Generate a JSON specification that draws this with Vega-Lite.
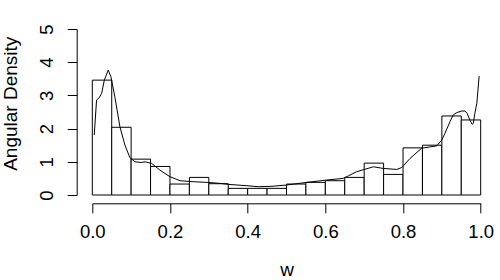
{
  "$schema": "https://vega.github.io/schema/vega-lite/v6.json",
  "width": 388.4,
  "height": 166,
  "autosize": {"type": "none"},
  "padding": {"left": 92.3, "top": 29, "right": 19.3, "bottom": 85},
  "background": "white",
  "config": {
    "view": {"stroke": null},
    "font": "Liberation Sans",
    "axis": {
      "grid": false,
      "domainColor": "black",
      "tickColor": "black",
      "labelColor": "black",
      "titleColor": "black",
      "labelFont": "Liberation Sans",
      "titleFont": "Liberation Sans",
      "labelFontSize": 18.5,
      "titleFontSize": 19,
      "titleFontWeight": "normal",
      "tickSize": 9.5,
      "domainWidth": 1,
      "tickWidth": 1,
      "labelOverlap": false,
      "labelFlush": false,
      "labelBound": false
    }
  },
  "datasets": {
    "bars": [
      {"lo": 0.00, "hi": 0.05, "density": 3.46},
      {"lo": 0.05, "hi": 0.10, "density": 2.04},
      {"lo": 0.10, "hi": 0.15, "density": 1.08},
      {"lo": 0.15, "hi": 0.20, "density": 0.86},
      {"lo": 0.20, "hi": 0.25, "density": 0.33},
      {"lo": 0.25, "hi": 0.30, "density": 0.53},
      {"lo": 0.30, "hi": 0.35, "density": 0.34},
      {"lo": 0.35, "hi": 0.40, "density": 0.20},
      {"lo": 0.40, "hi": 0.45, "density": 0.20},
      {"lo": 0.45, "hi": 0.50, "density": 0.20},
      {"lo": 0.50, "hi": 0.55, "density": 0.33},
      {"lo": 0.55, "hi": 0.60, "density": 0.38},
      {"lo": 0.60, "hi": 0.65, "density": 0.43},
      {"lo": 0.65, "hi": 0.70, "density": 0.53},
      {"lo": 0.70, "hi": 0.75, "density": 0.96},
      {"lo": 0.75, "hi": 0.80, "density": 0.62},
      {"lo": 0.80, "hi": 0.85, "density": 1.42},
      {"lo": 0.85, "hi": 0.90, "density": 1.50},
      {"lo": 0.90, "hi": 0.95, "density": 2.38},
      {"lo": 0.95, "hi": 1.00, "density": 2.26}
    ],
    "curve": [
      {"w": 0.005, "d": 1.81},
      {"w": 0.011, "d": 2.86},
      {"w": 0.018, "d": 2.93},
      {"w": 0.024, "d": 3.06},
      {"w": 0.031, "d": 3.46},
      {"w": 0.041, "d": 3.76},
      {"w": 0.048, "d": 3.56},
      {"w": 0.058, "d": 2.96},
      {"w": 0.071, "d": 2.06},
      {"w": 0.084, "d": 1.5},
      {"w": 0.097, "d": 1.12},
      {"w": 0.11, "d": 1.0},
      {"w": 0.125, "d": 0.98},
      {"w": 0.136, "d": 1.0},
      {"w": 0.153, "d": 0.95},
      {"w": 0.174, "d": 0.75},
      {"w": 0.2, "d": 0.55},
      {"w": 0.226, "d": 0.43},
      {"w": 0.26, "d": 0.40},
      {"w": 0.295, "d": 0.38},
      {"w": 0.329, "d": 0.35},
      {"w": 0.35, "d": 0.32},
      {"w": 0.398, "d": 0.28},
      {"w": 0.427, "d": 0.25},
      {"w": 0.46, "d": 0.26},
      {"w": 0.5, "d": 0.3},
      {"w": 0.552, "d": 0.38},
      {"w": 0.603, "d": 0.45},
      {"w": 0.646, "d": 0.5},
      {"w": 0.66, "d": 0.58},
      {"w": 0.68, "d": 0.70},
      {"w": 0.724, "d": 0.85},
      {"w": 0.749, "d": 0.80},
      {"w": 0.784, "d": 0.77},
      {"w": 0.797, "d": 0.83},
      {"w": 0.818, "d": 1.1},
      {"w": 0.848, "d": 1.41},
      {"w": 0.887, "d": 1.48},
      {"w": 0.9, "d": 1.66},
      {"w": 0.908, "d": 1.86},
      {"w": 0.921, "d": 2.21},
      {"w": 0.929, "d": 2.41},
      {"w": 0.938, "d": 2.48},
      {"w": 0.951, "d": 2.53},
      {"w": 0.96, "d": 2.53},
      {"w": 0.965, "d": 2.46},
      {"w": 0.972, "d": 2.26},
      {"w": 0.978, "d": 2.13},
      {"w": 0.981, "d": 2.16},
      {"w": 0.985, "d": 2.46},
      {"w": 0.99, "d": 2.76},
      {"w": 0.996, "d": 3.58}
    ]
  },
  "layer": [
    {
      "data": {"name": "bars"},
      "mark": {"type": "rect", "fill": "white", "stroke": "black", "strokeWidth": 1},
      "encoding": {
        "x": {
          "field": "lo", "type": "quantitative",
          "scale": {"domain": [0, 1], "nice": false, "zero": false},
          "axis": {
            "values": [0, 0.2, 0.4, 0.6, 0.8, 1.0],
            "format": ".1f",
            "offset": 8.3,
            "labelPadding": 10,
            "labelOverlap": false,
            "title": "w",
            "titleY": 72,
            "titleBaseline": "alphabetic"
          }
        },
        "x2": {"field": "hi"},
        "y": {
          "field": "density", "type": "quantitative",
          "scale": {"domain": [0, 5], "nice": false},
          "axis": {
            "values": [0, 1, 2, 3, 4, 5],
            "offset": 15.6,
            "labelAngle": -90,
            "labelAlign": "center",
            "labelBaseline": "bottom",
            "labelPadding": 11,
            "labelOverlap": false,
            "title": "Angular Density",
            "titleAngle": -90,
            "titleX": -60.5,
            "titleY": 74.3,
            "titleAlign": "center",
            "titleBaseline": "alphabetic"
          }
        },
        "y2": {"datum": 0}
      }
    },
    {
      "data": {"name": "curve"},
      "mark": {"type": "line", "color": "black", "strokeWidth": 1},
      "encoding": {
        "x": {
          "field": "w", "type": "quantitative",
          "axis": {
            "values": [0, 0.2, 0.4, 0.6, 0.8, 1.0],
            "format": ".1f",
            "offset": 8.3,
            "labelPadding": 10,
            "labelOverlap": false,
            "title": "w",
            "titleY": 72,
            "titleBaseline": "alphabetic"
          }
        },
        "y": {
          "field": "d", "type": "quantitative",
          "axis": {
            "values": [0, 1, 2, 3, 4, 5],
            "offset": 15.6,
            "labelAngle": -90,
            "labelAlign": "center",
            "labelBaseline": "bottom",
            "labelPadding": 11,
            "labelOverlap": false,
            "title": "Angular Density",
            "titleAngle": -90,
            "titleX": -60.5,
            "titleY": 74.3,
            "titleAlign": "center",
            "titleBaseline": "alphabetic"
          }
        }
      }
    }
  ]
}
